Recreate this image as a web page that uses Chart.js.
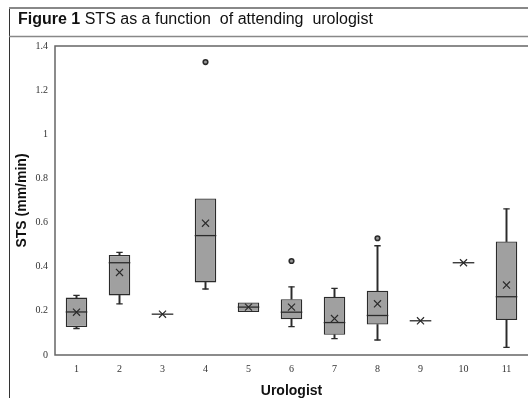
<!DOCTYPE html>
<html>
<head>
<meta charset="utf-8">
<script src="https://cdn.jsdelivr.net/npm/chart.js@4.4.1/dist/chart.umd.min.js"></script>
<style>
  html, body { margin: 0; padding: 0; background: #fff; }
  #wrap { position: relative; width: 528px; height: 398px; overflow: hidden; }
  #title { position: absolute; left: 18px; top: 10px; font: 16px "Liberation Sans", Arial, sans-serif; color: #111; white-space: pre; }
  #title b { font-weight: bold; }
  canvas { position: absolute; left: 0; top: 0; }
</style>
</head>
<body>
<div id="wrap">
  <canvas id="chart" width="528" height="398"></canvas>
  <div id="title"><b>Figure 1</b> STS as a function  of attending  urologist</div>
</div>
<script>
// values (STS, mm/min)
const urologists = ['1', '2', '3', '4', '5', '6', '7', '8', '9', '10', '11'];
const q1 = [0.127, 0.27, 0.185, 0.329, 0.195, 0.162, 0.092, 0.138, 0.155, 0.418, 0.159];
const q3 = [0.26, 0.453, 0.185, 0.709, 0.238, 0.253, 0.264, 0.291, 0.155, 0.418, 0.514];
const medians = [0.195, 0.418, 0.185, 0.541, 0.217, 0.194, 0.147, 0.179, 0.155, 0.418, 0.264];
const means = [0.194, 0.374, 0.185, 0.597, 0.217, 0.217, 0.165, 0.232, 0.155, 0.418, 0.317];
const whiskerLow = [0.12, 0.232, null, 0.299, null, 0.129, 0.074, 0.068, null, null, 0.035];
const whiskerHigh = [0.27, 0.465, null, null, null, 0.309, 0.302, 0.495, null, null, 0.662];
const outliers = [null, null, null, 1.327, null, 0.426, null, 0.529, null, null, null];
const yTicks = [0, 0.2, 0.4, 0.6, 0.8, 1, 1.2, 1.4];

const dark = '#2b2b2b';

var boxes = q1.map(function (v, i) { return [v, q3[i]]; });
var lowWhisk = whiskerLow.map(function (v, i) { return v == null ? null : [v, q1[i]]; });
var highWhisk = whiskerHigh.map(function (v, i) { return v == null ? null : [q3[i], v]; });

// figure frame + plot frame
var framePlugin = {
  id: 'frame',
  beforeDraw: function (chart) {
    var ctx = chart.ctx;
    ctx.save();
    ctx.strokeStyle = '#333';
    ctx.lineWidth = 1;
    ctx.beginPath();
    ctx.moveTo(9.5, 398);
    ctx.lineTo(9.5, 8.5);
    ctx.stroke();
    ctx.strokeStyle = '#888';
    ctx.lineWidth = 2;
    ctx.beginPath();
    ctx.moveTo(9, 8);
    ctx.lineTo(528, 8);
    ctx.stroke();
    ctx.lineWidth = 1.5;
    ctx.beginPath();
    ctx.moveTo(9, 36.5);
    ctx.lineTo(528, 36.5);
    ctx.stroke();
    var a = chart.chartArea;
    ctx.strokeStyle = '#666';
    ctx.lineWidth = 1.5;
    ctx.beginPath();
    ctx.moveTo(a.right, a.top);
    ctx.lineTo(a.left, a.top);
    ctx.lineTo(a.left, a.bottom);
    ctx.lineTo(a.right, a.bottom);
    ctx.stroke();
    ctx.restore();
  }
};

function pts(data, style, radius, extra) {
  var ds = {
    type: 'line',
    data: data,
    showLine: false,
    pointStyle: style,
    pointRadius: radius,
    pointHoverRadius: radius,
    pointBorderColor: dark,
    pointBackgroundColor: dark,
    pointBorderWidth: 1.3,
    order: 1
  };
  return Object.assign(ds, extra || {});
}

new Chart(document.getElementById('chart').getContext('2d'), {
  type: 'bar',
  data: {
    labels: urologists,
    datasets: [
      { data: lowWhisk, backgroundColor: dark, barThickness: 1.3, grouped: false, order: 3 },
      { data: highWhisk, backgroundColor: dark, barThickness: 1.3, grouped: false, order: 3 },
      {
        data: boxes,
        backgroundColor: '#a0a0a0',
        borderColor: dark,
        borderWidth: 1.3,
        borderSkipped: false,
        categoryPercentage: 1,
        barPercentage: 0.5,
        grouped: false,
        order: 2
      },
      pts(medians, 'line', 10.8),
      pts(whiskerLow, 'line', 3.2),
      pts(whiskerHigh, 'line', 3.2),
      pts(means, 'crossRot', 5, { pointBorderWidth: 1.2 }),
      pts(outliers, 'circle', 2.3, { pointBackgroundColor: '#999', pointBorderWidth: 1.6 })
    ]
  },
  options: {
    responsive: false,
    animation: false,
    layout: { autoPadding: false, padding: { left: 0, right: 0, top: 46, bottom: 0 } },
    plugins: { legend: { display: false }, tooltip: { enabled: false } },
    scales: {
      x: {
        grid: { display: false, drawTicks: false },
        border: { display: false },
        ticks: { color: '#333', padding: 8, font: { family: 'Liberation Serif', size: 10 } },
        title: {
          display: true, text: 'Urologist', color: '#111',
          font: { family: 'Liberation Sans', size: 14, weight: 'bold' },
          padding: { top: 0, bottom: -2 }
        },
        afterFit: function (s) { s.height = 43; }
      },
      y: {
        min: 0, max: 1.4,
        afterBuildTicks: function (s) { s.ticks = yTicks.map(function (v) { return { value: v }; }); },
        grid: { display: false, drawTicks: false },
        border: { display: false },
        ticks: {
          color: '#333', padding: 7, font: { family: 'Liberation Serif', size: 10 },
          callback: function (v) { return String(v); }
        },
        title: {
          display: true, text: 'STS (mm/min)', color: '#111',
          font: { family: 'Liberation Sans', size: 14, weight: 'bold' },
          padding: { top: 14, bottom: 0 }
        },
        afterFit: function (s) { s.width = 55; }
      }
    }
  },
  plugins: [framePlugin]
});
</script>
</body>
</html>
